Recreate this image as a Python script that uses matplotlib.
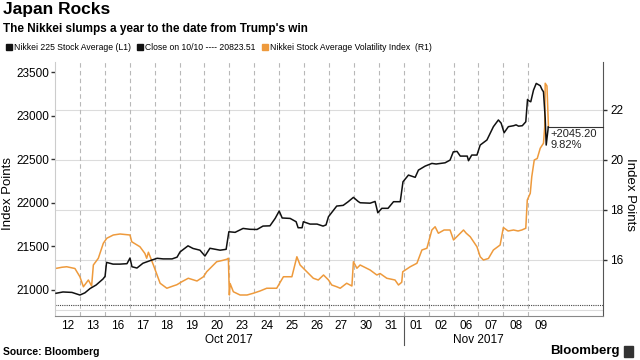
import matplotlib
matplotlib.use('Agg')
import matplotlib.pyplot as plt
import matplotlib.transforms as mtransforms
from matplotlib.lines import Line2D
from matplotlib.patches import Rectangle

# trading days shown on the x axis (one slot per session)
days = ['12', '13', '16', '17', '18', '19', '20', '23', '24', '25', '26', '27',
        '30', '31', '01', '02', '06', '07', '08', '09']
months = ['Oct 2017', 'Nov 2017']
month_start = [0, 14]
month_end = [14, 20]

# Nikkei 225 intraday, time in trading-day units from the 12 Oct open
nk_t = [0.04, 0.32, 0.68, 1.00, 1.20, 1.41, 1.65, 1.93, 2.01, 2.07, 2.33, 2.61,
        2.89, 3.01, 3.09, 3.29, 3.53, 3.82, 4.10, 4.34, 4.70, 4.90, 5.02, 5.34,
        5.54, 5.82, 6.02, 6.22, 6.63, 6.87, 6.98, 7.23, 7.55, 7.83, 8.11, 8.35,
        8.63, 8.84, 9.00, 9.12, 9.44, 9.68, 9.76, 9.92, 9.97, 10.24, 10.52, 10.76,
        10.88, 10.98, 11.31, 11.57, 11.77, 11.98, 12.17, 12.25, 12.65, 12.85, 12.96,
        13.12, 13.37, 13.59, 13.86, 13.97, 14.19, 14.46, 14.59, 14.86, 15.13, 15.30,
        15.66, 15.86, 15.99, 16.14, 16.27, 16.55, 16.60, 16.73, 16.94, 17.07, 17.34,
        17.60, 17.80, 17.91, 18.03, 18.20, 18.41, 18.51, 18.61, 18.76, 18.90, 18.97,
        19.00, 19.10, 19.21, 19.32, 19.48, 19.55, 19.61, 19.68, 19.72, 19.79, 19.80]
nk_v = [20958, 20973, 20968, 20938, 20963, 21013, 21053, 21123, 21153, 21313, 21293, 21293,
        21298, 21363, 21263, 21248, 21303, 21333, 21360, 21353, 21353, 21373, 21433, 21503,
        21473, 21453, 21386, 21475, 21453, 21463, 21665, 21658, 21703, 21693, 21691, 21730,
        21733, 21819, 21903, 21823, 21818, 21780, 21711, 21711, 21780, 21753, 21753, 21730,
        21743, 21838, 21960, 21968, 22010, 22060, 22013, 21998, 21993, 22013, 21883,
        21934, 21934, 22010, 22010, 22239, 22316, 22290, 22373, 22419, 22450, 22443,
        22457, 22488, 22583, 22588, 22534, 22534, 22481, 22546, 22546, 22661, 22719,
        22872, 22949, 22913, 22802, 22872, 22883, 22893, 22878, 22883, 22928, 23185,
        23173, 23158, 23292, 23369, 23343, 23299, 23273, 22967, 22661, 22833, 22868.71]

# Nikkei Stock Average Volatility Index (right axis)
vi_t = [0.07, 0.28, 0.47, 0.80, 1.00, 1.14, 1.34, 1.47, 1.54, 1.74, 1.94, 2.08, 2.34,
        2.61, 3.01, 3.08, 3.41, 3.61, 3.68, 3.75, 3.95, 4.22, 4.49, 4.74, 4.89, 5.09,
        5.35, 5.70, 5.96, 6.09, 6.29, 6.49, 6.71, 6.90, 6.96, 7.00, 7.03, 7.16, 7.43,
        7.71, 7.96, 8.23, 8.50, 8.90, 9.17, 9.51, 9.71, 9.84, 10.11, 10.37, 10.57,
        10.78, 10.98, 11.11, 11.31, 11.45, 11.71, 11.92, 11.98, 12.12, 12.25, 12.65,
        12.92, 13.05, 13.32, 13.65, 13.79, 13.92, 13.96, 14.26, 14.53, 14.73, 14.93,
        15.13, 15.26, 15.39, 15.62, 15.86, 16.00, 16.27, 16.40, 16.51, 16.67, 16.94,
        17.07, 17.20, 17.40, 17.60, 17.87, 18.00, 18.19, 18.41, 18.59, 18.74, 18.90,
        18.96, 19.08, 19.14, 19.24, 19.36, 19.48, 19.61, 19.66, 19.68, 19.75, 19.81]
vi_v = [15.67, 15.71, 15.73, 15.66, 15.33, 14.93, 15.20, 14.96, 15.80, 16.07, 16.67, 16.87, 17.00,
        17.04, 17.00, 16.73, 16.53, 16.26, 16.07, 16.31, 15.80, 15.07, 14.87, 14.96, 15.01, 15.13,
        15.27, 15.16, 15.33, 15.53, 15.73, 15.93, 15.98, 16.03, 16.07, 14.60, 15.06, 14.73, 14.60,
        14.60, 14.67, 14.76, 14.87, 14.87, 15.33, 15.33, 16.13, 15.80, 15.53, 15.27, 15.20,
        15.40, 15.20, 15.00, 14.93, 14.87, 15.07, 14.96, 15.93, 15.67, 15.80, 15.60,
        15.40, 15.46, 15.27, 15.20, 15.00, 15.11, 15.53, 15.73, 15.87, 16.40, 16.47,
        17.20, 17.33, 17.07, 17.20, 17.20, 16.80, 17.07, 17.20, 17.07, 16.93, 16.53,
        16.13, 16.00, 16.06, 16.40, 16.60, 17.30, 17.16, 17.20, 17.16, 17.20, 17.27,
        18.40, 18.67, 19.33, 20.00, 20.06, 20.47, 20.67, 21.33, 23.07, 22.96, 21.33]

close_1010 = 20823.51
chg_pts = 2045.20
chg_pct = 9.82

left_ticks = [21000, 21500, 22000, 22500, 23000, 23500]
right_ticks = [16, 18, 20, 22]
right_grid = [14, 16, 18, 20, 22]

plt.rcParams['font.family'] = ['Liberation Sans', 'DejaVu Sans']
orange = '#ee9a3c'

fig = plt.figure(figsize=(6.4, 3.6), dpi=100)
ax = fig.add_axes([55/640, 1 - 316/360, (603 - 55)/640, (316 - 62)/360])
ax2 = ax.twinx()
ax.set_zorder(ax2.get_zorder() + 1)
ax.patch.set_visible(False)

# grid (on the lower axes so lines sit on top)
for g in right_grid:
    ax2.axhline(g, color='#dcdcdc', lw=0.8, zorder=0)
for i in range(1, len(days)):
    ax2.axvline(i, color='#b8b8b8', lw=0.8, ls=(0, (4, 3)), zorder=0)

ax2.plot(vi_t, vi_v, color=orange, lw=1.1, zorder=2)
ax.plot(nk_t, nk_v, color='#111111', lw=1.1, zorder=3)
ax.axhline(close_1010, color='#444444', lw=0.8, ls=(0, (1, 1)), zorder=1)

# change annotation at the last point
ax.plot([nk_t[-1], 22], [nk_v[-1], nk_v[-1]], color='#333333', lw=0.8, clip_on=False)
ax.text(nk_t[-1] + 0.08, nk_v[-1] - 25, '+%.2f\n%.2f%%' % (chg_pts, chg_pct),
        fontsize=8, va='top', ha='left', color='#222222', linespacing=1.15)

ax.set_xlim(0, 22)
ax.set_ylim(20697, 23615)
ax2.set_ylim(13.76, 23.92)

ax.set_yticks(left_ticks)
ax.set_yticklabels([str(t) for t in left_ticks])
ax2.set_yticks(right_ticks)
ax2.set_yticklabels([str(t) for t in right_ticks])
ax.tick_params(axis='y', labelsize=8.5, length=3, width=1, color='#333333', pad=1)
ax2.tick_params(axis='y', labelsize=8.5, length=3, width=1, color='#333333', pad=2)

ax.set_xticks([i + 0.5 for i in range(len(days))])
ax.set_xticklabels(days)
ax.tick_params(axis='x', labelsize=8.5, length=0, pad=3)

trans = mtransforms.blended_transform_factory(ax.transData, ax.transAxes)
for m, a, b in zip(months, month_start, month_end):
    ax.text((a + b) / 2, -0.072, m, transform=trans, ha='center', va='top', fontsize=8.5)
ax.plot([month_start[1], month_start[1]], [0, -0.115], transform=trans,
        color='#555555', lw=0.8, clip_on=False)

for s in ['top', 'right']:
    ax.spines[s].set_visible(False)
ax.spines['left'].set_color('#cccccc')
ax.spines['bottom'].set_color('#888888')
for s in ['top', 'left', 'bottom']:
    ax2.spines[s].set_visible(False)
ax2.spines['right'].set_color('#555555')

fig.text(8/640, 1 - 194/360, 'Index Points', rotation=90, ha='center', va='center', fontsize=9.5)
fig.text(630/640, 1 - 194/360, 'Index Points', rotation=270, ha='center', va='center', fontsize=9.5)

fig.text(3/640, 1 - 2/360, 'Japan Rocks', fontsize=12.5, weight='bold', va='top')
fig.text(3/640, 1 - 23/360, "The Nikkei slumps a year to the date from Trump's win",
         fontsize=8.5, weight='bold', va='top')

handles = [Line2D([], [], marker='s', ls='none', color='#111111', markersize=4.5),
           Line2D([], [], marker='s', ls='none', color='#111111', markersize=4.5),
           Line2D([], [], marker='s', ls='none', color=orange, markersize=4.5)]
labels = ['Nikkei 225 Stock Average (L1)', 'Close on 10/10 ---- %.2f' % close_1010,
          'Nikkei Stock Average Volatility Index  (R1)']
fig.legend(handles, labels, loc='center left', bbox_to_anchor=(6/640, 1 - 48/360), ncol=3,
           frameon=False, fontsize=6.2, handlelength=0.6, handletextpad=0.3,
           columnspacing=0.8, borderpad=0, borderaxespad=0)

fig.text(3/640, 1 - 352/360, 'Source: Bloomberg', fontsize=7.5, weight='bold', va='center')
fig.text(620/640, 1 - 351/360, 'Bloomberg', fontsize=9.5, weight='bold', va='center', ha='right')
fig.patches.append(Rectangle((624/640, 1 - 357/360), 9/640, 11/360, transform=fig.transFigure,
                             color='#333333', figure=fig))

fig.savefig('out.png', dpi=100)
